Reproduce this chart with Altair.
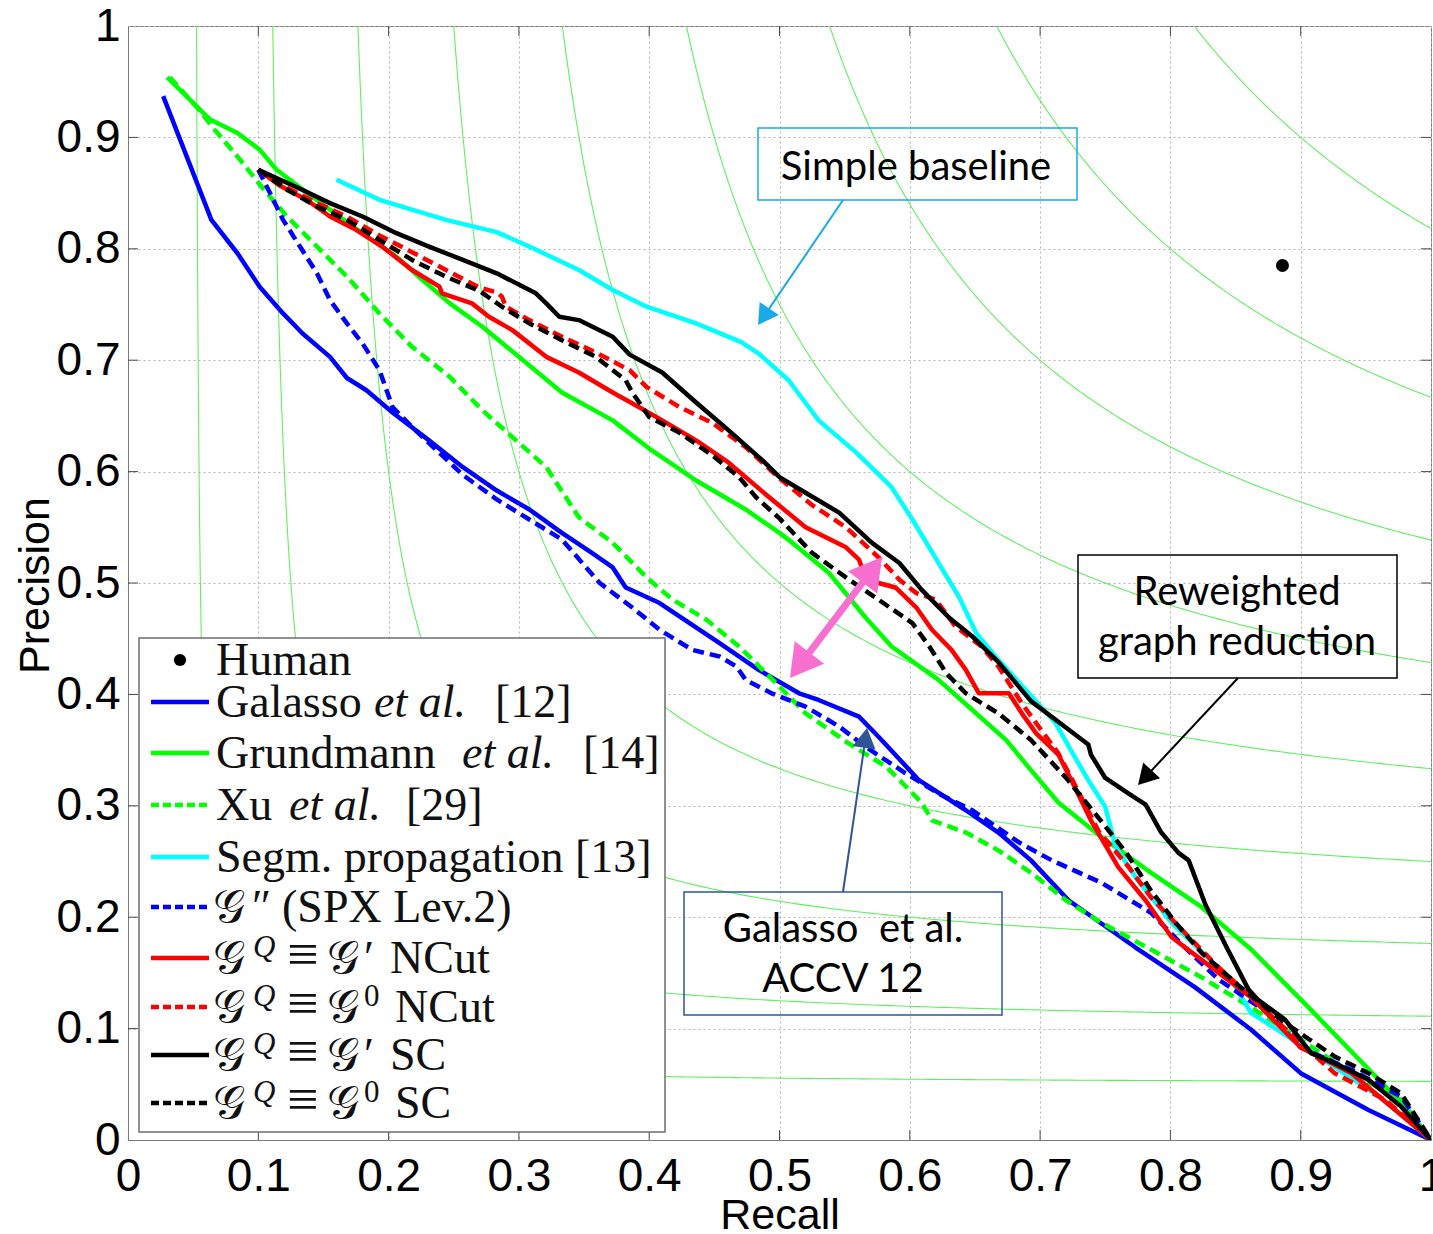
import math
import altair as alt
import numpy as np
import pandas as pd

# ---------------- data (recall, precision) ----------------
GALASSO = [(0.027, 0.937), (0.064, 0.826), (0.084, 0.796), (0.101, 0.766), (0.119, 0.742),
           (0.134, 0.724), (0.155, 0.703), (0.168, 0.684), (0.183, 0.673), (0.203, 0.653),
           (0.231, 0.628), (0.257, 0.604), (0.283, 0.583), (0.308, 0.566), (0.333, 0.545),
           (0.356, 0.527), (0.372, 0.514), (0.382, 0.496), (0.408, 0.482), (0.431, 0.464),
           (0.454, 0.446), (0.484, 0.422), (0.515, 0.401), (0.530, 0.395), (0.561, 0.380),
           (0.576, 0.362), (0.607, 0.323), (0.643, 0.296), (0.668, 0.276), (0.693, 0.251),
           (0.722, 0.215), (0.773, 0.173), (0.819, 0.137), (0.862, 0.099), (0.900, 0.060),
           (0.952, 0.027), (1.000, 0.000)]

GRUNDMANN = [(0.030, 0.954), (0.063, 0.916), (0.084, 0.904), (0.101, 0.889), (0.114, 0.871),
             (0.132, 0.855), (0.155, 0.835), (0.180, 0.814), (0.206, 0.793), (0.226, 0.772),
             (0.247, 0.751), (0.272, 0.730), (0.300, 0.703), (0.333, 0.671), (0.372, 0.646),
             (0.402, 0.619), (0.436, 0.592), (0.474, 0.566), (0.500, 0.545), (0.510, 0.536),
             (0.538, 0.509), (0.566, 0.469), (0.586, 0.443), (0.622, 0.413), (0.648, 0.386),
             (0.674, 0.359), (0.693, 0.332), (0.714, 0.303), (0.747, 0.272), (0.785, 0.240),
             (0.824, 0.209), (0.862, 0.171), (0.906, 0.119), (0.965, 0.048), (1.000, 0.000)]

XU = [(0.032, 0.954), (0.053, 0.927), (0.065, 0.909), (0.086, 0.880), (0.103, 0.855),
      (0.122, 0.829), (0.145, 0.802), (0.168, 0.775), (0.193, 0.742), (0.218, 0.712),
      (0.247, 0.685), (0.272, 0.655), (0.295, 0.631), (0.321, 0.604), (0.346, 0.559),
      (0.372, 0.536), (0.398, 0.505), (0.418, 0.485), (0.444, 0.467), (0.469, 0.443),
      (0.500, 0.407), (0.520, 0.383), (0.553, 0.356), (0.582, 0.335), (0.609, 0.303),
      (0.617, 0.287), (0.643, 0.276), (0.668, 0.260), (0.693, 0.240), (0.720, 0.215),
      (0.747, 0.195), (0.785, 0.171), (0.824, 0.146), (0.862, 0.119), (0.900, 0.090),
      (0.939, 0.060), (0.977, 0.036), (1.000, 0.000)]

SEGM_PROP = [(0.160, 0.862), (0.193, 0.844), (0.244, 0.826), (0.283, 0.815), (0.308, 0.802),
             (0.346, 0.781), (0.372, 0.763), (0.398, 0.748), (0.436, 0.733), (0.471, 0.716),
             (0.484, 0.706), (0.507, 0.682), (0.530, 0.646), (0.559, 0.617), (0.586, 0.586),
             (0.602, 0.557), (0.622, 0.518), (0.638, 0.487), (0.651, 0.455), (0.668, 0.431),
             (0.689, 0.404), (0.712, 0.374), (0.724, 0.349), (0.737, 0.323), (0.750, 0.299),
             (0.758, 0.263), (0.775, 0.233), (0.801, 0.195), (0.847, 0.143), (0.862, 0.114),
             (0.906, 0.081), (0.959, 0.040), (1.000, 0.000)]

SPX_LEV2 = [(0.100, 0.871), (0.109, 0.850), (0.119, 0.826), (0.132, 0.802), (0.145, 0.778),
            (0.155, 0.754), (0.168, 0.733), (0.180, 0.715), (0.193, 0.691), (0.203, 0.658),
            (0.218, 0.640), (0.237, 0.619), (0.257, 0.597), (0.283, 0.575), (0.308, 0.557),
            (0.333, 0.539), (0.362, 0.500), (0.387, 0.478), (0.408, 0.458), (0.433, 0.440),
            (0.454, 0.434), (0.467, 0.425), (0.474, 0.413), (0.494, 0.401), (0.520, 0.389),
            (0.546, 0.371), (0.566, 0.353), (0.597, 0.329), (0.622, 0.311), (0.648, 0.296),
            (0.684, 0.267), (0.709, 0.251), (0.747, 0.231), (0.785, 0.204), (0.811, 0.173),
            (0.837, 0.144), (0.875, 0.114), (0.900, 0.083), (0.939, 0.063), (0.977, 0.039),
            (1.000, 0.000)]

GQ_G1_NCUT = [(0.100, 0.871), (0.116, 0.857), (0.137, 0.844), (0.155, 0.829), (0.175, 0.817),
              (0.195, 0.802), (0.218, 0.781), (0.239, 0.766), (0.241, 0.760), (0.264, 0.751),
              (0.277, 0.739), (0.295, 0.727), (0.321, 0.703), (0.346, 0.689), (0.372, 0.671),
              (0.392, 0.658), (0.410, 0.646), (0.436, 0.628), (0.461, 0.608), (0.490, 0.579),
              (0.520, 0.550), (0.551, 0.532), (0.561, 0.521), (0.566, 0.505), (0.576, 0.500),
              (0.589, 0.496), (0.605, 0.478), (0.617, 0.458), (0.632, 0.440), (0.643, 0.422),
              (0.653, 0.401), (0.676, 0.401), (0.686, 0.383), (0.697, 0.365), (0.714, 0.346),
              (0.724, 0.323), (0.739, 0.287), (0.760, 0.245), (0.781, 0.215), (0.801, 0.182),
              (0.827, 0.159), (0.862, 0.128), (0.900, 0.083), (0.939, 0.060), (1.000, 0.000)]

GQ_G0_NCUT = [(0.100, 0.871), (0.122, 0.855), (0.145, 0.841), (0.168, 0.829), (0.193, 0.812),
              (0.218, 0.797), (0.244, 0.781), (0.270, 0.765), (0.283, 0.761), (0.287, 0.757),
              (0.290, 0.748), (0.308, 0.736), (0.333, 0.721), (0.359, 0.707), (0.385, 0.691),
              (0.398, 0.676), (0.423, 0.658), (0.448, 0.644), (0.474, 0.622), (0.500, 0.594),
              (0.525, 0.570), (0.551, 0.550), (0.576, 0.523), (0.592, 0.503), (0.605, 0.491),
              (0.620, 0.485), (0.635, 0.461), (0.655, 0.443), (0.668, 0.425), (0.686, 0.392),
              (0.699, 0.371), (0.714, 0.347), (0.724, 0.325), (0.745, 0.277), (0.768, 0.245),
              (0.785, 0.218), (0.811, 0.186), (0.837, 0.155), (0.862, 0.128), (0.900, 0.087),
              (0.926, 0.060), (0.965, 0.036), (1.000, 0.000)]

GQ_G1_SC = [(0.100, 0.871), (0.130, 0.855), (0.155, 0.841), (0.180, 0.829), (0.206, 0.814),
            (0.231, 0.802), (0.257, 0.790), (0.283, 0.778), (0.313, 0.760), (0.321, 0.751),
            (0.331, 0.739), (0.346, 0.736), (0.372, 0.721), (0.385, 0.705), (0.410, 0.689),
            (0.436, 0.662), (0.461, 0.637), (0.487, 0.610), (0.500, 0.595), (0.520, 0.581),
            (0.546, 0.563), (0.571, 0.536), (0.592, 0.518), (0.609, 0.494), (0.630, 0.469),
            (0.648, 0.452), (0.668, 0.429), (0.693, 0.394), (0.720, 0.370), (0.737, 0.355),
            (0.739, 0.346), (0.750, 0.325), (0.768, 0.311), (0.781, 0.301), (0.793, 0.276),
            (0.806, 0.258), (0.814, 0.251), (0.827, 0.211), (0.844, 0.171), (0.860, 0.135),
            (0.867, 0.126), (0.888, 0.108), (0.908, 0.078), (0.926, 0.069), (0.952, 0.054),
            (0.977, 0.030), (1.000, 0.000)]

GQ_G0_SC = [(0.100, 0.871), (0.122, 0.853), (0.145, 0.838), (0.168, 0.826), (0.193, 0.808),
            (0.218, 0.790), (0.244, 0.775), (0.270, 0.762), (0.287, 0.748), (0.308, 0.733),
            (0.333, 0.718), (0.359, 0.703), (0.382, 0.682), (0.387, 0.671), (0.400, 0.649),
            (0.423, 0.635), (0.448, 0.615), (0.469, 0.595), (0.482, 0.577), (0.500, 0.558),
            (0.525, 0.527), (0.551, 0.505), (0.576, 0.485), (0.602, 0.464), (0.615, 0.443),
            (0.628, 0.419), (0.643, 0.401), (0.668, 0.383), (0.693, 0.359), (0.720, 0.325),
            (0.745, 0.289), (0.766, 0.258), (0.785, 0.224), (0.804, 0.195), (0.824, 0.168),
            (0.852, 0.139), (0.888, 0.105), (0.926, 0.075), (0.952, 0.060), (0.977, 0.042),
            (1.000, 0.000)]

HUMAN = [(0.886, 0.785)]

ISO_F_LEVELS = [0.1, 0.2, 0.3, 0.4, 0.5, 0.6, 0.7, 0.8, 0.9]
X_TICKS = [0, 0.1, 0.2, 0.3, 0.4, 0.5, 0.6, 0.7, 0.8, 0.9, 1]
Y_TICKS = [0, 0.1, 0.2, 0.3, 0.4, 0.5, 0.6, 0.7, 0.8, 0.9, 1]

# ---------------- styling / geometry ----------------
SANS = "Liberation Sans Narrow, Arial Narrow, Liberation Sans, Arial, sans-serif"
SERIF = "Liberation Serif, DejaVu Serif, serif"
CAL = "Lato, Open Sans, sans-serif"
CALG = "𝒢"

PLOT_W, PLOT_H = 1303, 1114
PAD_L, PAD_T = 128, 26
DASH = [11, 6]
LW = 4.5


def rx(px):
    return (px - PAD_L) / PLOT_W


def py(pyy):
    return (PAD_T + PLOT_H - pyy) / PLOT_H


XS = alt.Scale(domain=[0, 1], nice=False, zero=False)
YS = alt.Scale(domain=[0, 1], nice=False, zero=False)

COMMON_AXIS = dict(format="~g", grid=True, gridColor="#b4b4b4", gridDash=[2, 3], gridWidth=1,
                   ticks=False, tickSize=0, domainColor="#7a7a7a",
                   labelFont=SANS, labelFontSize=46, labelColor="#000",
                   labelFlush=False, labelOverlap=False, labelBound=False,
                   titleFont=SANS, titleFontSize=43, titleFontWeight="normal", titleColor="#000")
X_AXIS = alt.Axis(values=X_TICKS, title="Recall", labelPadding=14,
                  titleX=PLOT_W / 2, titleY=88, titleAlign="center", titleBaseline="alphabetic",
                  **COMMON_AXIS)
Y_AXIS = alt.Axis(values=Y_TICKS, title="Precision", labelPadding=8,
                  titleX=-80, titleY=PLOT_H / 2 + 2, titleAngle=270, titleAlign="center",
                  titleBaseline="alphabetic", **COMMON_AXIS)


def X():
    return alt.X("R:Q", scale=XS, axis=X_AXIS)


def Y():
    return alt.Y("P:Q", scale=YS, axis=Y_AXIS)


layers = []

# iso-F contours (guide curves defined by the F levels)
iso_rows = []
for f in ISO_F_LEVELS:
    r0 = f / (2 - f)
    grid_r = np.linspace(r0, 1.0, 200)
    grid_p = np.linspace(r0, 1.0, 200)
    pts = [(float(r), float(f * r / (2 * r - f))) for r in grid_r[1:]]
    pts += [(float(f * p / (2 * p - f)), float(p)) for p in grid_p]
    pts.sort()
    for i, (a, b) in enumerate(pts):
        iso_rows.append({"F": f, "i": i, "R": a, "P": b})
iso_df = pd.DataFrame(iso_rows)
layers.append(alt.Chart(iso_df).mark_line(color="#62ee62", strokeWidth=1.1, clip=True).encode(
    x=X(), y=Y(), detail="F:N", order="i:Q"))

# inward ticks (MATLAB style)
tick_rows = []
tl_x, tl_y = 10 / PLOT_W, 10 / PLOT_H
for v in X_TICKS[1:-1]:
    tick_rows.append({"R": v, "P": 0, "R2": v, "P2": tl_y})
    tick_rows.append({"R": v, "P": 1, "R2": v, "P2": 1 - tl_y})
for v in Y_TICKS[1:-1]:
    tick_rows.append({"R": 0, "P": v, "R2": tl_x, "P2": v})
    tick_rows.append({"R": 1, "P": v, "R2": 1 - tl_x, "P2": v})
layers.append(alt.Chart(pd.DataFrame(tick_rows)).mark_rule(color="#4a4a4a", strokeWidth=1).encode(
    x=X(), y=Y(), x2="R2:Q", y2="P2:Q"))

SERIES = [
    (GALASSO, "#0000ff", None),
    (GRUNDMANN, "#00ff00", None),
    (XU, "#00ff00", DASH),
    (SEGM_PROP, "#00ffff", None),
    (SPX_LEV2, "#0000ff", DASH),
    (GQ_G1_NCUT, "#ff0000", None),
    (GQ_G0_NCUT, "#ff0000", DASH),
    (GQ_G1_SC, "#000000", None),
    (GQ_G0_SC, "#000000", DASH),
]

for pairs, color, dash in SERIES:
    df = pd.DataFrame(pairs, columns=["R", "P"])
    df["i"] = range(len(df))
    kw = dict(color=color, strokeWidth=LW, clip=True, strokeJoin="round", strokeCap="butt")
    if dash:
        kw["strokeDash"] = dash
    layers.append(alt.Chart(df).mark_line(**kw).encode(x=X(), y=Y(), order="i:Q"))

layers.append(alt.Chart(pd.DataFrame(HUMAN, columns=["R", "P"])).mark_point(
    filled=True, size=170, color="#000", opacity=1).encode(x=X(), y=Y()))

# ---------------- legend (drawn manually) ----------------
box = pd.DataFrame([{"R": rx(139), "R2": rx(665), "P": py(638), "P2": py(1132)}])
layers.append(alt.Chart(box).mark_rect(fill="white", stroke="#6e6e6e", strokeWidth=1.5).encode(
    x=X(), x2="R2:Q", y=Y(), y2="P2:Q"))

ROW_Y = [660, 702, 753, 805, 857, 907, 958, 1007, 1055, 1103]
for k, (pairs, color, dash) in enumerate(SERIES):
    yy = py(ROW_Y[k + 1])
    d = pd.DataFrame([{"R": rx(151), "R2": rx(209), "P": yy}])
    kw = dict(color=color, strokeWidth=LW)
    if dash:
        kw["strokeDash"] = [8, 4]
    layers.append(alt.Chart(d).mark_rule(**kw).encode(x=X(), x2="R2:Q", y=Y()))

layers.append(alt.Chart(pd.DataFrame([{"R": rx(180), "P": py(ROW_Y[0])}])).mark_point(
    filled=True, size=150, color="#000", opacity=1).encode(x=X(), y=Y()))

BL = 15  # baseline offset below row centre
normal_pieces = [
    (216, 0, "Human"),
    (216, 1, "Galasso"), (495, 1, "[12]"),
    (216, 2, "Grundmann"), (583, 2, "[14]"),
    (216, 3, "Xu"), (406, 3, "[29]"),
    (216, 4, "Segm. propagation [13]"),
    (282, 5, "(SPX Lev.2)"),
    (390, 6, "NCut"), (395, 7, "NCut"), (390, 8, "SC"), (395, 9, "SC"),
    (252, 5, "″"), (364, 6, "′"), (364, 8, "′"),
]
equiv_pieces = [(287, r, "≡") for r in range(6, 10)]
italic_pieces = [(374, 1, "et al."), (462, 2, "et al."), (289, 3, "et al.")]
sup_italic = [(253, r, "Q") for r in range(6, 10)]
sup_upright = [(364, 7, "0"), (364, 9, "0")]
cal_pieces = [(213, r, CALG) for r in range(5, 10)] + [(327, r, CALG) for r in range(6, 10)]


def text_df(pieces, dy):
    return pd.DataFrame([{"R": rx(x), "P": py(ROW_Y[r] + dy), "t": t} for x, r, t in pieces])


layers.append(alt.Chart(text_df(normal_pieces, BL)).mark_text(
    align="left", baseline="alphabetic", font=SERIF, fontSize=46, color="#111").encode(
    x=X(), y=Y(), text="t:N"))
layers.append(alt.Chart(text_df(equiv_pieces, BL)).mark_text(
    align="left", baseline="alphabetic", font=SERIF, fontSize=56, color="#111").encode(
    x=X(), y=Y(), text="t:N"))
layers.append(alt.Chart(text_df(italic_pieces, BL)).mark_text(
    align="left", baseline="alphabetic", font=SERIF, fontSize=46, fontStyle="italic",
    color="#111").encode(x=X(), y=Y(), text="t:N"))
layers.append(alt.Chart(text_df(sup_italic, -1)).mark_text(
    align="left", baseline="alphabetic", font=SERIF, fontSize=31, fontStyle="italic",
    color="#111").encode(x=X(), y=Y(), text="t:N"))
layers.append(alt.Chart(text_df(sup_upright, -1)).mark_text(
    align="left", baseline="alphabetic", font=SERIF, fontSize=31, color="#111").encode(
    x=X(), y=Y(), text="t:N"))
layers.append(alt.Chart(text_df(cal_pieces, BL)).mark_text(
    align="left", baseline="alphabetic", font=SERIF, fontSize=45, color="#111").encode(
    x=X(), y=Y(), text="t:N"))

# ---------------- annotations ----------------
boxes = [
    ((758, 128, 1077, 200), "#1aa9e8"),
    ((1078, 555, 1397, 678), "#000000"),
    ((684, 892, 1002, 1015), "#2f5597"),
]
for (x0, y0, x1, y1), col in boxes:
    d = pd.DataFrame([{"R": rx(x0), "R2": rx(x1), "P": py(y0), "P2": py(y1)}])
    layers.append(alt.Chart(d).mark_rect(fillOpacity=0, stroke=col, strokeWidth=1.5).encode(
        x=X(), x2="R2:Q", y=Y(), y2="P2:Q"))

notes = [(916, 180, "Simple baseline"), (1237, 605, "Reweighted"),
         (1237, 655, "graph reduction"), (843, 942, "Galasso\u00a0 et al."), (843, 992, "ACCV 12")]
nd = pd.DataFrame([{"R": rx(x), "P": py(y), "t": t} for x, y, t in notes])
layers.append(alt.Chart(nd).mark_text(align="center", baseline="alphabetic", font=CAL,
                                      fontSize=40, color="#000").encode(x=X(), y=Y(), text="t:N"))


def arrow_head(tip, ux, uy, length, color):
    h = length / 2
    cx, cy = tip[0] - ux * h, tip[1] - uy * h
    ang = math.degrees(math.atan2(ux, -uy)) % 360
    size = (length / 0.866) ** 2
    d = pd.DataFrame([{"R": rx(cx), "P": py(cy)}])
    return alt.Chart(d).mark_point(shape="triangle-up", filled=True, opacity=1, color=color,
                                   size=size, angle=ang, strokeWidth=0).encode(x=X(), y=Y())


def arrow(start, tip, color, width, head_len, double=False):
    dx, dy = tip[0] - start[0], tip[1] - start[1]
    n = math.hypot(dx, dy)
    ux, uy = dx / n, dy / n
    s = start
    if double:
        s = (start[0] + ux * head_len * 0.9, start[1] + uy * head_len * 0.9)
    e = (tip[0] - ux * head_len * 0.9, tip[1] - uy * head_len * 0.9)
    d = pd.DataFrame([{"R": rx(s[0]), "P": py(s[1]), "R2": rx(e[0]), "P2": py(e[1])}])
    out = [alt.Chart(d).mark_rule(color=color, strokeWidth=width).encode(
        x=X(), y=Y(), x2="R2:Q", y2="P2:Q"), arrow_head(tip, ux, uy, head_len, color)]
    if double:
        out.append(arrow_head(start, -ux, -uy, head_len, color))
    return out


layers += arrow((843, 200), (758, 325), "#1aa9e8", 2, 20)
layers += arrow((1238, 678), (1138, 785), "#000000", 2, 20)
layers += arrow((843, 892), (867, 728), "#2f5597", 2, 20)
layers += arrow((790, 678), (882, 557), "#f76fcf", 7, 32, double=True)

chart = alt.layer(*layers).properties(
    width=PLOT_W, height=PLOT_H,
    padding={"left": PAD_L, "top": PAD_T, "right": 2, "bottom": 94},
    autosize=alt.AutoSizeParams(type="none"),
    background="white",
).configure_view(stroke="#7a7a7a", strokeWidth=1)

chart.save("out.html", embed_options={"renderer": "svg", "actions": False})
